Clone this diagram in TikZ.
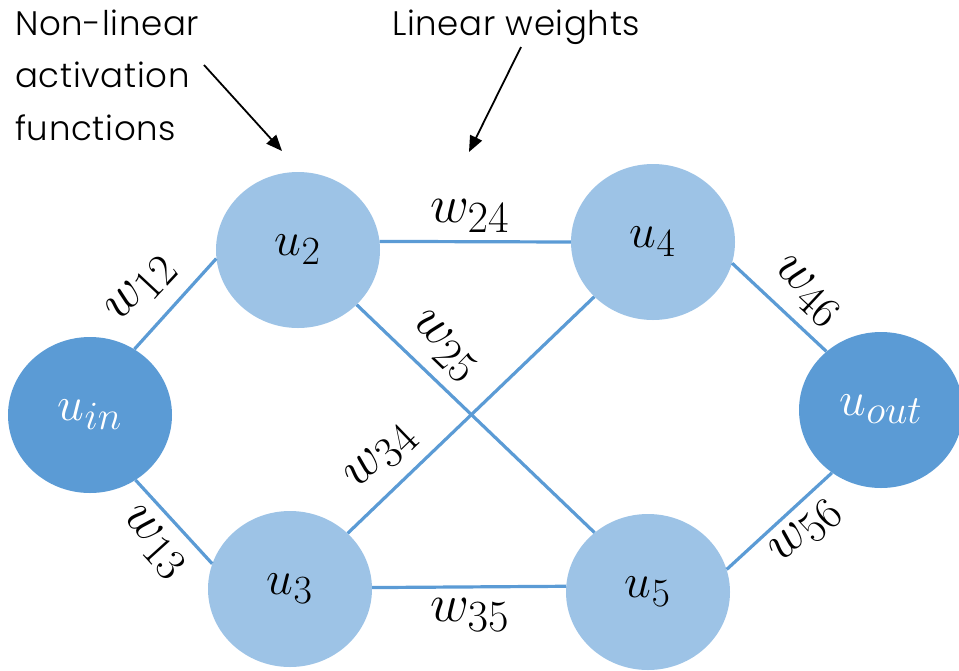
\documentclass[tikz,border=0pt]{standalone}
\usepackage[no-math]{fontspec}
\setmainfont{Poppins}[UprightFont=* Light, LetterSpace=2]
\usetikzlibrary{shapes.geometric, arrows.meta}
\definecolor{nodelight}{HTML}{9DC3E6}
\definecolor{nodedark}{HTML}{5B9BD5}
\definecolor{edgeblue}{HTML}{5B9BD5}
% large math: set at \Huge and scaled up
\newcommand{\bigmath}[2]{\scalebox{#1}{\Huge$#2$}}

\begin{document}
\begin{tikzpicture}[x=1pt,y=-1pt,
  unit/.style={ellipse, fill=nodelight, minimum width=164pt, minimum height=156pt,
    inner sep=0pt, text height=24pt, text depth=14pt},
  ioput/.style={unit, fill=nodedark, text=white},
  link/.style={edgeblue, line width=3.2pt},
  wlabel/.style={inner sep=0pt},
  note/.style={font=\fontsize{34}{52.5}\selectfont, align=left, inner sep=0pt},
  pointer/.style={-{Triangle[length=16pt,width=13pt]}, line width=1.8pt}]

\useasboundingbox (0,0) rectangle (959,670);

% neurons
\node[ioput] (uin)  at (90,415)  {\bigmath{1.93}{u_{in}}};
\node[unit]  (u2)   at (298,250) {\bigmath{1.93}{u_2}};
\node[unit]  (u3)   at (290,589) {\bigmath{1.93}{u_3}};
\node[unit]  (u4)   at (653,242) {\bigmath{1.93}{u_4}};
\node[unit]  (u5)   at (648,592) {\bigmath{1.93}{u_5}};
\node[ioput] (uout) at (881,410) {\bigmath{1.93}{u_{out}}};

% weighted connections
\draw[link] (uin.56)  -- (u2.186);
\draw[link] (uin.-55) -- (u3.162);
\draw[link] (u2.6.5)  -- (u4.180);
\draw[link] (u2.-43)  -- (u5.132);
\draw[link] (u3.44)   -- (u4.223);
\draw[link] (u3.1.5)  -- (u5.176.5);
\draw[link] (u4.-15)  -- (uout.133);
\draw[link] (u5.16)   -- (uout.232);

% weight labels
\node[wlabel, rotate=47]  (l12) at (142,289) {\bigmath{2.15}{w_{12}}};
\node[wlabel, rotate=-48] (l13) at (154,543) {\bigmath{2.15}{w_{13}}};
\node[wlabel]             (l24) at (470,216) {\bigmath{2.15}{w_{24}}};
\node[wlabel, rotate=-44] (l25) at (444,347) {\bigmath{2.15}{w_{25}}};
\node[wlabel, rotate=44]  (l34) at (382,457) {\bigmath{2.15}{w_{34}}};
\node[wlabel]             (l35) at (470,615) {\bigmath{2.15}{w_{35}}};
\node[wlabel, rotate=-43] (l46) at (807,292) {\bigmath{2.15}{w_{46}}};
\node[wlabel, rotate=43]  (l56) at (806,532) {\bigmath{2.15}{w_{56}}};

% annotations
\node[note, anchor=base west] (nl) at (15,140) {Non-linear\\activation\\functions};
\node[note, anchor=base west] (lw) at (392,35) {Linear weights};

\coordinate (a1s) at (204,65);
\coordinate (a1e) at (282,151);
\coordinate (a2s) at (521,47);
\coordinate (a2e) at (469,152);
\draw[pointer] (a1s) -- (a1e);
\draw[pointer] (a2s) -- (a2e);
\end{tikzpicture}
\end{document}
